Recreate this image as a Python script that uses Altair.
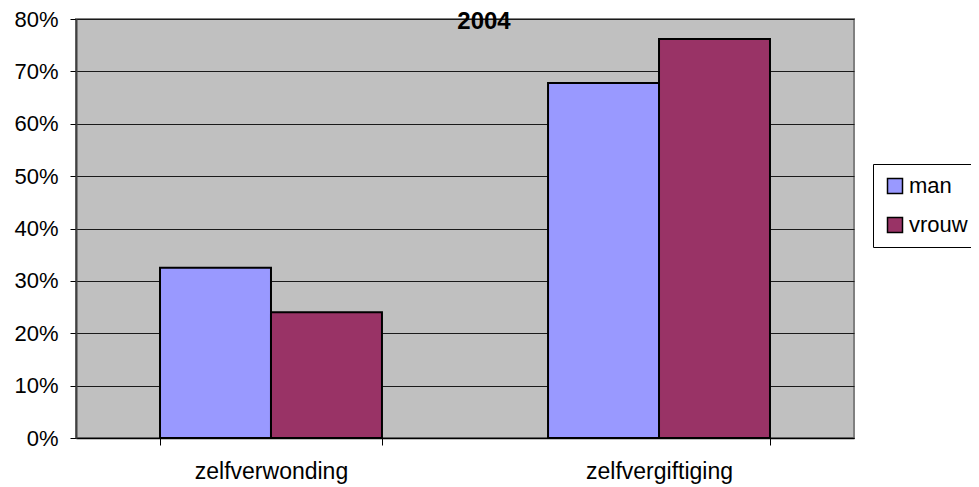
import altair as alt
import pandas as pd

categories = ["zelfverwonding", "zelfvergiftiging"]
series = ["man", "vrouw"]
man_values = [0.325, 0.678]
vrouw_values = [0.240, 0.762]
y_ticks = [0, 0.1, 0.2, 0.3, 0.4, 0.5, 0.6, 0.7, 0.8]
chart_title = "2004"
colors = ["#9999FF", "#993366"]

rows = []
for i, c in enumerate(categories):
    rows.append({"categorie": c, "geslacht": "man", "aandeel": man_values[i]})
    rows.append({"categorie": c, "geslacht": "vrouw", "aandeel": vrouw_values[i]})
df = pd.DataFrame(rows)

FONT = "Liberation Sans"

bars = alt.Chart(df).mark_bar(stroke="black", strokeWidth=2).encode(
    x=alt.X(
        "categorie:N", sort=categories, title=None,
        scale=alt.Scale(paddingInner=0.428, paddingOuter=0.2165),
        axis=alt.Axis(labelAngle=0, tickBand="extent", tickSize=7, tickColor="black",
                      tickWidth=1, domainColor="black", domainWidth=1.5,
                      labelFontSize=23, labelFont=FONT, labelColor="black",
                      labelPadding=15, grid=False),
    ),
    xOffset=alt.XOffset("geslacht:N", sort=series,
                        scale=alt.Scale(paddingInner=0, paddingOuter=0)),
    y=alt.Y(
        "aandeel:Q", title=None,
        scale=alt.Scale(domain=[0, 0.8], nice=False),
        axis=alt.Axis(values=y_ticks, format=".0%", tickSize=6, tickColor="black",
                      domainColor="#404040", domainWidth=2,
                      grid=True, gridColor="#1a1a1a", gridWidth=1,
                      labelFontSize=22, labelFont=FONT, labelColor="black",
                      labelPadding=12),
    ),
    color=alt.Color(
        "geslacht:N", sort=series,
        scale=alt.Scale(domain=series, range=colors),
        legend=alt.Legend(orient="none", legendX=797, legendY=145, title=None,
                          symbolType="square", symbolSize=225,
                          symbolStrokeColor="black", symbolStrokeWidth=1.5,
                          symbolOpacity=1,
                          labelFontSize=22, labelFont=FONT, labelColor="black",
                          labelOffset=3, strokeColor="black", fillColor="white",
                          padding=11, rowPadding=17),
    ),
)

title_text = alt.Chart(pd.DataFrame({"titel": [chart_title]})).mark_text(
    font=FONT, fontSize=24, fontWeight="bold", color="black",
    align="center", baseline="alphabetic",
).encode(
    text="titel:N",
    x=alt.value(408),
    y=alt.value(10),
)

chart = alt.layer(bars, title_text).properties(
    width=778,
    height=419,
    autosize=alt.AutoSizeParams(type="none"),
    padding={"left": 68, "top": 11, "right": 117, "bottom": 49},
).configure_view(
    fill="#C0C0C0", stroke="#808080", strokeWidth=2
)

chart.save("out.html", embed_options={"renderer": "svg", "actions": False})
